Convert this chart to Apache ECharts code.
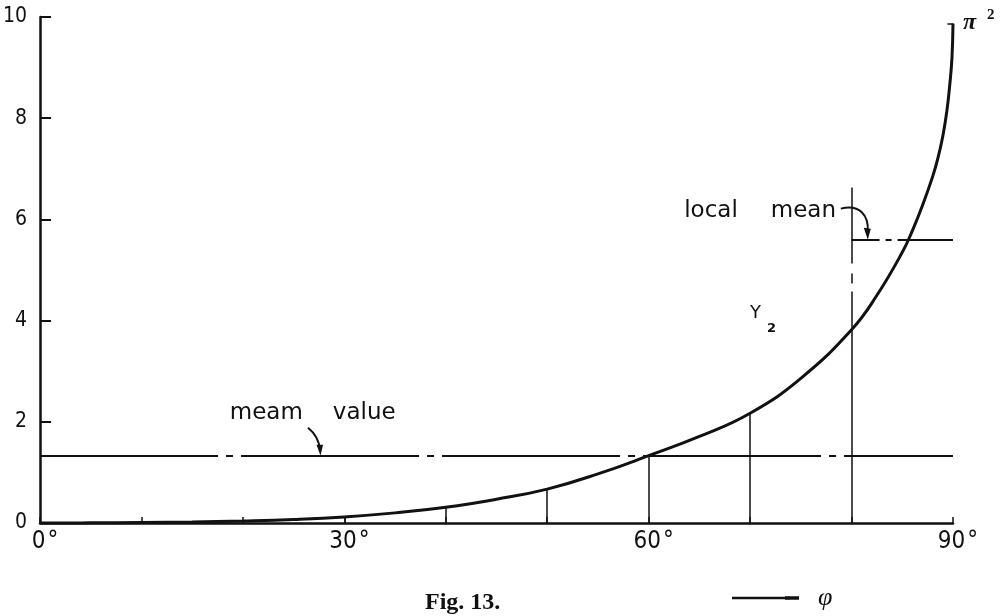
<!DOCTYPE html>
<html>
<head>
<meta charset="utf-8">
<script src="https://cdn.jsdelivr.net/npm/echarts@6/dist/echarts.min.js"></script>
<style>
html,body{margin:0;padding:0;background:#fff;}
#chart{width:1008px;height:616px;}
</style>
</head>
<body>
<div id="chart"></div>
<script>
// ---- data ----
const phi = [0, 5, 10, 15, 20, 25, 30, 35, 40, 45, 50, 55, 60, 65, 70, 75, 80, 82.5, 85, 86, 87, 88, 88.5, 89, 89.4, 89.7, 89.9, 90];
const y2  = [0, 0.003, 0.01, 0.02, 0.04, 0.07, 0.12, 0.2, 0.31, 0.47, 0.67, 0.97, 1.33, 1.71, 2.17, 2.86, 3.82, 4.5, 5.35, 5.78, 6.28, 6.85, 7.2, 7.65, 8.15, 8.7, 9.2, 9.87];
const stemPhi = [30, 40, 50, 60, 70];
const meanValue = 1.33;
const localMean = 5.6;
const localFrom = 80;
const localTo = 90;
const localTop = 6.63;
const rightTop = 10.2;
const piSquared = 9.87;
const xLabelTicks = [0, 30, 60, 90];
const yLabelTicks = [0, 2, 4, 6, 8, 10];

const INK = '#111';
const NARROW = '"Liberation Sans Narrow", "DejaVu Sans Condensed", "Liberation Sans", sans-serif';

function yAt(p) { return y2[phi.indexOf(p)]; }

const chart = echarts.init(document.getElementById('chart'), null, {renderer: 'canvas'});

const markLines = [];
stemPhi.forEach(p => {
  markLines.push([{coord: [p, 0], lineStyle: {width: 1.5, color: INK, type: 'solid'}}, {coord: [p, yAt(p)]}]);
});
// mean value line
markLines.push([{coord: [0, meanValue], lineStyle: {width: 2.2, color: INK, type: [178, 8, 7, 8]}}, {coord: [90, meanValue]}]);
// local mean line
markLines.push([{coord: [localFrom, localMean], lineStyle: {width: 2.2, color: INK, type: [28, 6, 6, 6, 200, 10]}}, {coord: [localTo, localMean]}]);
// vertical at 80 deg
markLines.push([{coord: [localFrom, localTop], lineStyle: {width: 1.5, color: INK, type: [76, 10, 10, 8, 1000, 10]}}, {coord: [localFrom, 0]}]);
// vertical at 90 deg
markLines.push([{coord: [localTo, 0], lineStyle: {width: 2, color: INK, type: 'solid'}}, {coord: [localTo, rightTop]}]);
// pi^2 tick
markLines.push([{coord: [89.45, piSquared], lineStyle: {width: 1.5, color: INK, type: 'solid'}}, {coord: [90, piSquared]}]);

const option = {
  animation: false,
  backgroundColor: '#fff',
  grid: {left: 40, right: 55, top: 17, bottom: 93},
  xAxis: {
    type: 'value', min: 0, max: 90, interval: 10,
    axisLine: {lineStyle: {color: INK, width: 2.5}},
    axisTick: {inside: true, length: 6, lineStyle: {color: INK, width: 1.5}},
    splitLine: {show: false},
    axisLabel: {
      margin: 7,
      hideOverlap: false,
      formatter: v => xLabelTicks.indexOf(v) >= 0 ? '{p| }{n|' + v + '}{d|°}' : '',
      rich: {
        p: {width: 10, fontSize: 24, fontFamily: NARROW},
        n: {fontSize: 24, fontFamily: NARROW, color: INK},
        d: {fontSize: 24, fontFamily: NARROW, color: INK, padding: [0, 0, 0, 2]}
      }
    }
  },
  yAxis: {
    type: 'value', min: 0, max: 10, interval: 2,
    axisLine: {show: true, lineStyle: {color: INK, width: 2.5}},
    axisTick: {show: true, inside: true, length: 11, lineStyle: {color: INK, width: 2}},
    splitLine: {show: false},
    axisLabel: {
      margin: 13, fontSize: 21, fontFamily: NARROW, color: INK,
      formatter: v => yLabelTicks.indexOf(v) >= 0 ? String(v) : ''
    }
  },
  series: [{
    type: 'line',
    name: 'Y2',
    data: phi.map((p, i) => [p, y2[i]]),
    showSymbol: false,
    symbol: 'none',
    smooth: 0.45,
    clip: false,
    z: 5,
    lineStyle: {color: INK, width: 3},
    markLine: {
      silent: true,
      symbol: ['none', 'none'],
      label: {show: false},
      animation: false,
      data: markLines
    }
  }]
};
chart.setOption(option);

function px(x, y) { return chart.convertToPixel({gridIndex: 0}, [x, y]); }

const g = [];
// "meam value" label and arrow
const mvPos = px(18.7, 2.18);
g.push({
  type: 'text', x: mvPos[0], y: mvPos[1],
  style: {
    text: '{a|meam}{g| }{a|value}',
    verticalAlign: 'middle', align: 'left',
    rich: {
      a: {fontSize: 23, fontFamily: '"DejaVu Sans", sans-serif', fill: INK, color: INK},
      g: {width: 30, fontSize: 23}
    }
  }
});
const mvTip = px(27.6, meanValue);
g.push({
  type: 'bezierCurve',
  shape: {x1: mvTip[0] - 12, y1: mvTip[1] - 28, cpx1: mvTip[0] - 7, cpy1: mvTip[1] - 24, cpx2: mvTip[0] - 1, cpy2: mvTip[1] - 16, x2: mvTip[0], y2: mvTip[1] - 6},
  style: {stroke: INK, lineWidth: 2, fill: null}
});
g.push({
  type: 'polygon',
  shape: {points: [[mvTip[0] + 0.5, mvTip[1]], [mvTip[0] - 3.5, mvTip[1] - 11], [mvTip[0] + 3, mvTip[1] - 11]]},
  style: {fill: INK}
});

// "local mean" label and arrow
const lmPos = px(63.5, 6.16);
g.push({
  type: 'text', x: lmPos[0], y: lmPos[1],
  style: {
    text: '{a|local}{g| }{a|mean}',
    verticalAlign: 'middle', align: 'left',
    rich: {
      a: {fontSize: 23, fontFamily: '"DejaVu Sans", sans-serif', fill: INK, color: INK},
      g: {width: 33, fontSize: 23}
    }
  }
});
const lmTip = px(81.6, localMean);
g.push({
  type: 'bezierCurve',
  shape: {x1: lmTip[0] - 27, y1: lmTip[1] - 31, cpx1: lmTip[0] - 8, cpy1: lmTip[1] - 36, cpx2: lmTip[0] + 1, cpy2: lmTip[1] - 24, x2: lmTip[0], y2: lmTip[1] - 8},
  style: {stroke: INK, lineWidth: 2, fill: null}
});
g.push({
  type: 'polygon',
  shape: {points: [[lmTip[0], lmTip[1]], [lmTip[0] - 4, lmTip[1] - 12], [lmTip[0] + 3, lmTip[1] - 11]]},
  style: {fill: INK}
});

// Y2 label
const yPos = px(70.0, 4.28);
g.push({
  type: 'text', x: yPos[0], y: yPos[1] + 7,
  style: {
    text: '{y|Y}{s|2}',
    verticalAlign: 'middle', align: 'left',
    rich: {
      y: {fontSize: 18, fontFamily: '"DejaVu Sans", sans-serif', lineHeight: 44, fill: INK, color: INK},
      s: {fontSize: 13, fontWeight: 'bold', fontFamily: '"DejaVu Sans", sans-serif', verticalAlign: 'bottom', padding: [0, 0, 0, 6], fill: INK, color: INK}
    }
  }
});

// pi^2 label
const piPos = px(90, piSquared);
g.push({
  type: 'text', x: piPos[0] + 10, y: piPos[1] - 1,
  style: {
    text: '{p|π}{s|2}',
    verticalAlign: 'middle', align: 'left',
    rich: {
      p: {fontSize: 24, fontWeight: 'bold', fontStyle: 'italic', fontFamily: '"Liberation Serif", serif', lineHeight: 30, fill: INK, color: INK},
      s: {fontSize: 15, fontWeight: 'bold', fontFamily: '"Liberation Serif", serif', verticalAlign: 'top', padding: [0, 0, 0, 11], fill: INK, color: INK}
    }
  }
});

// caption and axis variable
g.push({
  type: 'text', x: 425, y: 603,
  style: {text: 'Fig. 13.', verticalAlign: 'middle', align: 'left', font: 'bold 24px "Liberation Serif", serif', fill: INK}
});
g.push({
  type: 'line', shape: {x1: 732, y1: 598, x2: 790, y2: 598},
  style: {stroke: INK, lineWidth: 2.5}
});
g.push({
  type: 'line', shape: {x1: 785, y1: 598, x2: 799, y2: 598},
  style: {stroke: INK, lineWidth: 3.5}
});
g.push({
  type: 'text', x: 818, y: 598,
  style: {text: 'φ', verticalAlign: 'middle', align: 'left', font: 'italic 26px "Liberation Serif", serif', fill: INK}
});

chart.setOption({graphic: {elements: g}});
</script>
</body>
</html>
